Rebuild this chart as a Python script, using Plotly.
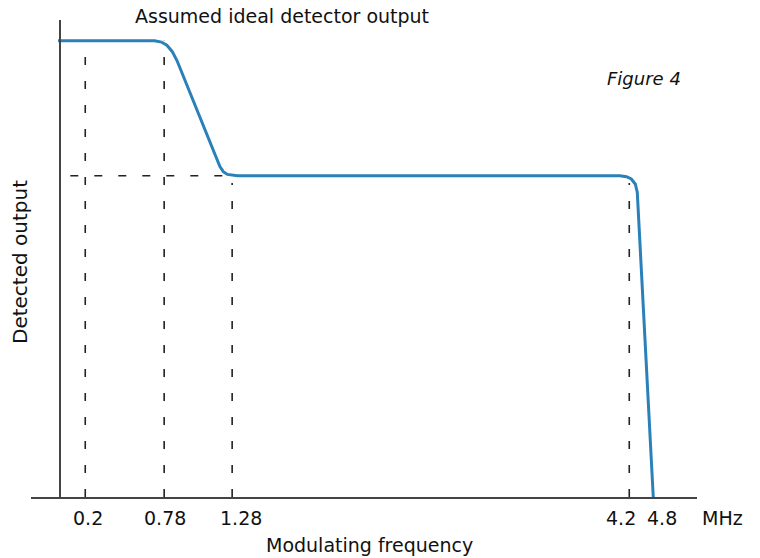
import plotly.graph_objects as go

# ---- data (real units: MHz, relative detected output) ----
curve_freq = [0.0, 0.71, 0.76, 0.80, 0.84, 0.875, 1.19, 1.215, 1.245, 1.28, 1.32,
              4.13, 4.18, 4.25, 4.35, 4.40, 4.8]
curve_out = [1.0, 1.0, 0.997, 0.99, 0.976, 0.956, 0.724, 0.713, 0.707, 0.705, 0.704,
             0.704, 0.702, 0.697, 0.686, 0.668, 0.0]

tick_freq = [0.2, 0.78, 1.28, 4.2, 4.8]
tick_text = ["0.2", "0.78", "1.28", "4.2", "4.8"]

# dashed guides: (frequency, top output level)
guide_freq = [0.2, 0.78, 1.28, 4.2]
guide_top = [1.0, 1.0, 0.688, 0.688]
plateau_level = 0.704
plateau_start = 0.09

# schematic axis: linear up to 4.2 MHz, compressed beyond (as in the drawing)
BREAK = 4.2
COMPRESS = 0.294


def disp(f):
    return f if f <= BREAK else BREAK + (f - BREAK) * COMPRESS


BLUE = "#2a80b9"
FONT = "DejaVu Sans, Verdana, sans-serif"
fig = go.Figure()

# vertical dashed guides
for f, top in zip(guide_freq, guide_top):
    fig.add_trace(go.Scatter(x=[disp(f), disp(f)], y=[0, top], mode="lines",
                             line=dict(color="#222222", width=1.6, dash="8px,16px"),
                             hoverinfo="skip", showlegend=False))
# horizontal dashed guide
fig.add_trace(go.Scatter(x=[plateau_start, disp(1.28)], y=[plateau_level, plateau_level],
                         mode="lines",
                         line=dict(color="#222222", width=1.6, dash="8px,16px"),
                         hoverinfo="skip", showlegend=False))

# response curve
fig.add_trace(go.Scatter(x=[disp(f) for f in curve_freq], y=curve_out, mode="lines",
                         line=dict(color=BLUE, width=3), showlegend=False))

# plot area in pixels: l=31, r=63, t=20, b=61 -> 666 x 477
L, T, W, H = 31, 20, 666, 477


def px(x):
    return (x - L) / W


def py(y):
    return (T + H - y) / H


# tick labels drawn as annotations (label offsets as in the drawing)
tick_shift = [3, 1, 9, -8, 9]
annotations = []
for f, txt, sh in zip(tick_freq, tick_text, tick_shift):
    annotations.append(dict(text=txt, x=disp(f), xref="x", y=py(518), yref="paper",
                            xshift=sh, showarrow=False, font=dict(size=19),
                            xanchor="center", yanchor="middle"))

annotations += [
    dict(text="Assumed ideal detector output", x=px(282), y=py(16), xref="paper",
         yref="paper", showarrow=False, font=dict(size=19), xanchor="center",
         yanchor="middle"),
    dict(text="<i>Figure 4</i>", x=px(644), y=py(78), xref="paper", yref="paper",
         showarrow=False, font=dict(size=18), xanchor="center", yanchor="middle"),
    dict(text="Detected output", x=px(20), y=py(262), xref="paper", yref="paper",
         showarrow=False, textangle=-90, font=dict(size=20), xanchor="center",
         yanchor="middle"),
    dict(text="Modulating frequency", x=px(369), y=py(545), xref="paper",
         yref="paper", showarrow=False, font=dict(size=19), xanchor="center",
         yanchor="middle"),
    dict(text="MHz", x=px(723), y=py(518), xref="paper", yref="paper",
         showarrow=False, font=dict(size=19), xanchor="center", yanchor="middle"),
]

fig.update_layout(
    width=760, height=558,
    margin=dict(l=L, r=760 - L - W, t=T, b=558 - T - H),
    paper_bgcolor="white", plot_bgcolor="white",
    font=dict(family=FONT, color="#111111", size=19),
    xaxis=dict(range=[-0.199, 4.698], showgrid=False, zeroline=False,
               showline=True, linecolor="#444444", linewidth=1.5,
               showticklabels=False, ticks=""),
    yaxis=dict(range=[0, 1.0454], showgrid=False, zeroline=False,
               showline=True, linecolor="#444444", linewidth=1.5,
               anchor="free", position=px(60),
               showticklabels=False, ticks=""),
    annotations=annotations,
)

fig.write_html("out.html")
